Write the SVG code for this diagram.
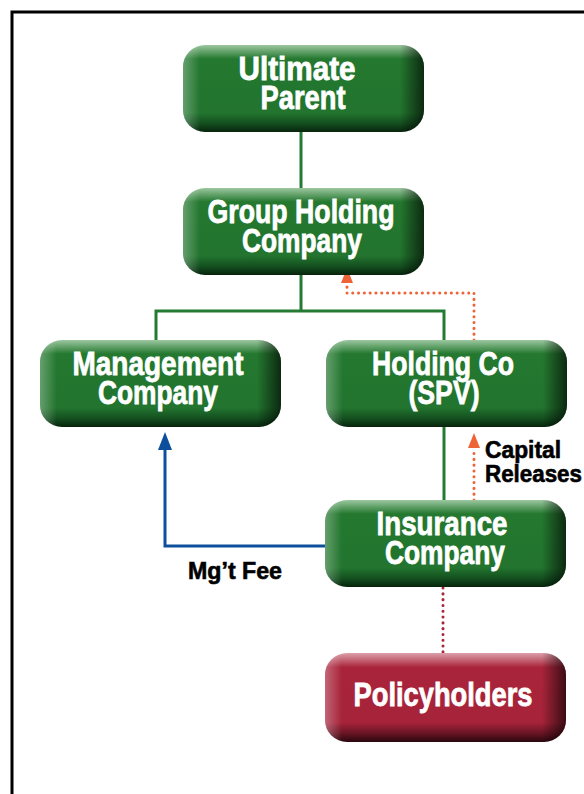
<svg xmlns="http://www.w3.org/2000/svg" width="584" height="794" viewBox="0 0 584 794">
<defs>
<linearGradient id="gv" x1="0" y1="0" x2="0" y2="1">
<stop offset="0" stop-color="#9cc7a0"/>
<stop offset="0.16" stop-color="#24782f"/>
<stop offset="0.78" stop-color="#22742e"/>
<stop offset="0.9" stop-color="#145020"/>
<stop offset="1" stop-color="#07240c"/>
</linearGradient>
<linearGradient id="rv" x1="0" y1="0" x2="0" y2="1">
<stop offset="0" stop-color="#dca0aa"/>
<stop offset="0.16" stop-color="#a9243b"/>
<stop offset="0.78" stop-color="#a6233a"/>
<stop offset="0.9" stop-color="#6a1525"/>
<stop offset="1" stop-color="#2a070e"/>
</linearGradient>
<linearGradient id="hs" x1="0" y1="0" x2="1" y2="0">
<stop offset="0" stop-color="#ffffff" stop-opacity="0.3"/>
<stop offset="0.07" stop-color="#ffffff" stop-opacity="0"/>
<stop offset="0.9" stop-color="#000000" stop-opacity="0"/>
<stop offset="1" stop-color="#000000" stop-opacity="0.65"/>
</linearGradient>
<marker id="ao" viewBox="0 0 15 12" refX="0" refY="6" markerWidth="15" markerHeight="12" markerUnits="userSpaceOnUse" orient="auto">
<path d="M0,0 L15,6 L0,12 Z" fill="#ef6437"/>
</marker>
<marker id="ab" viewBox="0 0 18 14" refX="0" refY="7" markerWidth="18" markerHeight="14" markerUnits="userSpaceOnUse" orient="auto">
<path d="M0,0 L18,7 L0,14 Z" fill="#0d4f9c"/>
</marker>
</defs>
<style>
.nt{font-family:"Liberation Sans",Arial,sans-serif;font-weight:bold;font-size:33px;fill:#ffffff;stroke:#ffffff;stroke-width:0.8;text-anchor:middle}
.lb{font-family:"Liberation Sans",Arial,sans-serif;font-weight:bold;font-size:24px;fill:#000000;stroke:#000000;stroke-width:0.6}
.g{fill:url(#gv)}
.r{fill:url(#rv)}
.h{fill:url(#hs)}
.cg{stroke:#237a32;stroke-width:3;fill:none}
.co{stroke:#ef6437;stroke-width:3;fill:none;stroke-dasharray:0.1 5.7;stroke-linecap:round}
.cr{stroke:#a9243b;stroke-width:3;fill:none;stroke-dasharray:0.1 5.7;stroke-linecap:round}
.cb{stroke:#0d4f9c;stroke-width:3;fill:none}
</style>
<rect x="12" y="12" width="600" height="800" fill="none" stroke="#000" stroke-width="3"/>
<g id="connectors">
<path class="cg" d="M301,132 V188"/>
<path class="cg" d="M301,275 V311 M156,340 V311 H444 V340"/>
<path class="cg" d="M444,427 V500"/>
<path class="co" d="M474,340 V293 H347 V283" marker-end="url(#ao)"/>
<path class="co" d="M474,500 V448" marker-end="url(#ao)"/>
<path class="cb" d="M325,546 H165 V450" marker-end="url(#ab)"/>
<path class="cr" d="M443,588 V653"/>
</g>
<g id="ultimate-parent">
<rect class="g" x="183" y="45" width="241" height="87" rx="22"/>
<rect class="h" x="183" y="45" width="241" height="87" rx="22"/>
<text class="nt" x="297" y="80" textLength="117" lengthAdjust="spacingAndGlyphs">Ultimate</text>
<text class="nt" x="303" y="109" textLength="85" lengthAdjust="spacingAndGlyphs">Parent</text>
</g>
<g id="group-holding">
<rect class="g" x="183" y="188" width="241" height="87" rx="22"/>
<rect class="h" x="183" y="188" width="241" height="87" rx="22"/>
<text class="nt" x="301" y="223" textLength="187" lengthAdjust="spacingAndGlyphs">Group Holding</text>
<text class="nt" x="302" y="252" textLength="120" lengthAdjust="spacingAndGlyphs">Company</text>
</g>
<g id="management-company">
<rect class="g" x="40" y="340" width="241" height="87" rx="22"/>
<rect class="h" x="40" y="340" width="241" height="87" rx="22"/>
<text class="nt" x="158" y="375" textLength="171" lengthAdjust="spacingAndGlyphs">Management</text>
<text class="nt" x="158" y="404" textLength="120" lengthAdjust="spacingAndGlyphs">Company</text>
</g>
<g id="holding-co-spv">
<rect class="g" x="326" y="340" width="241" height="87" rx="22"/>
<rect class="h" x="326" y="340" width="241" height="87" rx="22"/>
<text class="nt" x="443" y="375" textLength="142" lengthAdjust="spacingAndGlyphs">Holding Co</text>
<text class="nt" x="444" y="404" textLength="71" lengthAdjust="spacingAndGlyphs">(SPV)</text>
</g>
<g id="insurance-company">
<rect class="g" x="325" y="500" width="241" height="87" rx="22"/>
<rect class="h" x="325" y="500" width="241" height="87" rx="22"/>
<text class="nt" x="442" y="535" textLength="131" lengthAdjust="spacingAndGlyphs">Insurance</text>
<text class="nt" x="445" y="564" textLength="120" lengthAdjust="spacingAndGlyphs">Company</text>
</g>
<g id="policyholders">
<rect class="r" x="325" y="653" width="241" height="89" rx="22"/>
<rect class="h" x="325" y="653" width="241" height="89" rx="22"/>
<text class="nt" x="443" y="706" textLength="179" lengthAdjust="spacingAndGlyphs">Policyholders</text>
</g>
<g id="labels">
<text class="lb" x="485" y="458" textLength="76" lengthAdjust="spacingAndGlyphs">Capital</text>
<text class="lb" x="485" y="482" textLength="97" lengthAdjust="spacingAndGlyphs">Releases</text>
<text class="lb" x="188" y="579" textLength="94" lengthAdjust="spacingAndGlyphs">Mg’t Fee</text>
</g>
</svg>
